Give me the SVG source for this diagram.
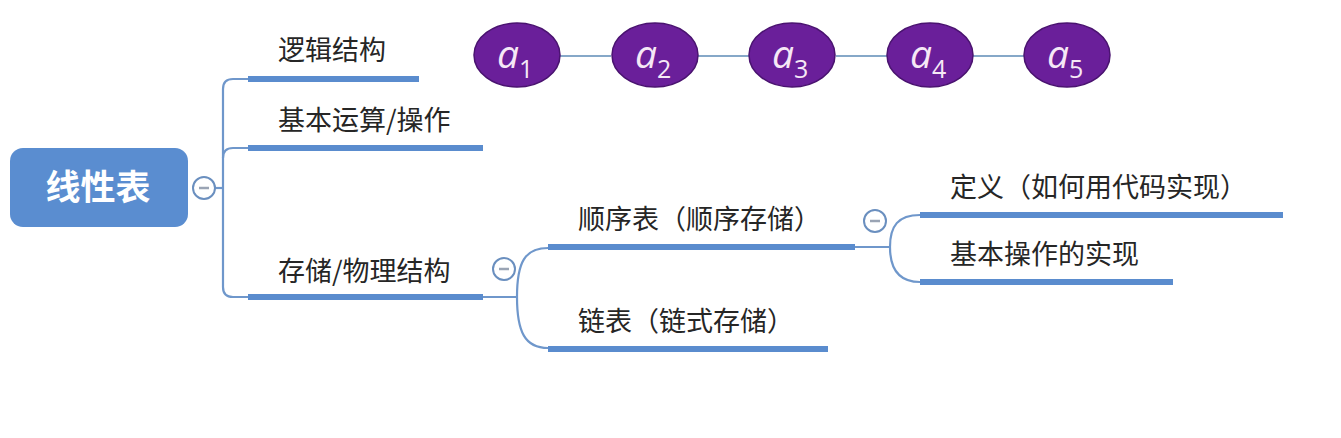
<svg xmlns="http://www.w3.org/2000/svg" width="1341" height="438" viewBox="0 0 1341 438">
<style>
.t{font-family:"Noto Sans CJK SC","Noto Sans",sans-serif;font-size:27px;fill:#262626}
.ul{stroke:#5a8cce;stroke-width:6;fill:none}
.cn{stroke:#6f97cb;stroke-width:2.2;fill:none}
.lk{stroke:#86a8c8;stroke-width:2;fill:none}
.col{fill:#fff;stroke:#6a8fbf;stroke-width:2}
.mn{stroke:#9aa4b4;stroke-width:2.5}
.el{fill:#6a1f9a;stroke:#4a1370;stroke-width:1.5}
.a{font-family:"Open Sans","Liberation Sans",sans-serif;font-style:italic;font-size:39px;fill:#f6e8f6}
.s{font-family:"Open Sans","Liberation Sans",sans-serif;font-size:25px;fill:#f6e8f6}
</style>
<rect width="1341" height="438" fill="#ffffff"/>
<g id="connectors">
<path class="cn" d="M215 188 H223"/>
<path class="cn" d="M248 79 H233 Q223 79 223 89 V287 Q223 297 233 297 H248"/>
<path class="cn" d="M223 158 Q223 148 233 148 H248"/>
<path class="cn" d="M483 297 H517"/>
<path class="cn" d="M517 297 C517 262 525 248 548 248"/>
<path class="cn" d="M517 297 C517 332 525 348 548 348"/>
<path class="cn" d="M855 247 H890"/>
<path class="cn" d="M890 247 C890 226 898 215 920 215"/>
<path class="cn" d="M890 247 C890 268 898 282 920 282"/>
<path class="lk" d="M560 56 H611 M698 56 H749 M836 56 H887 M973 56 H1024"/>
</g>
<g id="root">
<rect x="10" y="148" width="178" height="79" rx="13" fill="#5a8dd0"/>
<text x="98" y="200" text-anchor="middle" font-family="Noto Sans CJK SC,sans-serif" font-size="35" font-weight="bold" fill="#ffffff">线性表</text>
<circle class="col" cx="204" cy="188" r="11"/>
<line class="mn" x1="199" y1="188" x2="209" y2="188"/>
</g>
<g id="n-logic">
<text class="t" x="278" y="60">逻辑结构</text>
<line class="ul" x1="248" y1="79" x2="419" y2="79"/>
</g>
<g id="n-ops">
<text class="t" x="278" y="130">基本运算/操作</text>
<line class="ul" x1="248" y1="148" x2="483" y2="148"/>
</g>
<g id="n-storage">
<text class="t" x="278" y="281">存储/物理结构</text>
<line class="ul" x1="248" y1="297" x2="483" y2="297"/>
<circle class="col" cx="504" cy="269" r="11"/>
<line class="mn" x1="499" y1="269" x2="509" y2="269"/>
</g>
<g id="n-seq">
<text class="t" x="578" y="229">顺序表（顺序存储）</text>
<line class="ul" x1="548" y1="247" x2="855" y2="247"/>
<circle class="col" cx="875" cy="221" r="11"/>
<line class="mn" x1="870" y1="221" x2="880" y2="221"/>
</g>
<g id="n-linked">
<text class="t" x="578" y="331">链表（链式存储）</text>
<line class="ul" x1="548" y1="349" x2="828" y2="349"/>
</g>
<g id="n-def">
<text class="t" x="950" y="197">定义（如何用代码实现）</text>
<line class="ul" x1="920" y1="215" x2="1283" y2="215"/>
</g>
<g id="n-impl">
<text class="t" x="950" y="264">基本操作的实现</text>
<line class="ul" x1="920" y1="282" x2="1173" y2="282"/>
</g>
<g id="a1"><ellipse class="el" cx="517" cy="55" rx="43" ry="32"/><text x="497" y="68"><tspan class="a">a</tspan><tspan class="s" dy="10">1</tspan></text></g>
<g id="a2"><ellipse class="el" cx="655" cy="55" rx="43" ry="32"/><text x="635" y="68"><tspan class="a">a</tspan><tspan class="s" dy="10">2</tspan></text></g>
<g id="a3"><ellipse class="el" cx="792" cy="55" rx="43" ry="32"/><text x="772" y="68"><tspan class="a">a</tspan><tspan class="s" dy="10">3</tspan></text></g>
<g id="a4"><ellipse class="el" cx="930" cy="55" rx="43" ry="32"/><text x="910" y="68"><tspan class="a">a</tspan><tspan class="s" dy="10">4</tspan></text></g>
<g id="a5"><ellipse class="el" cx="1067" cy="55" rx="43" ry="32"/><text x="1047" y="68"><tspan class="a">a</tspan><tspan class="s" dy="10">5</tspan></text></g>
</svg>
